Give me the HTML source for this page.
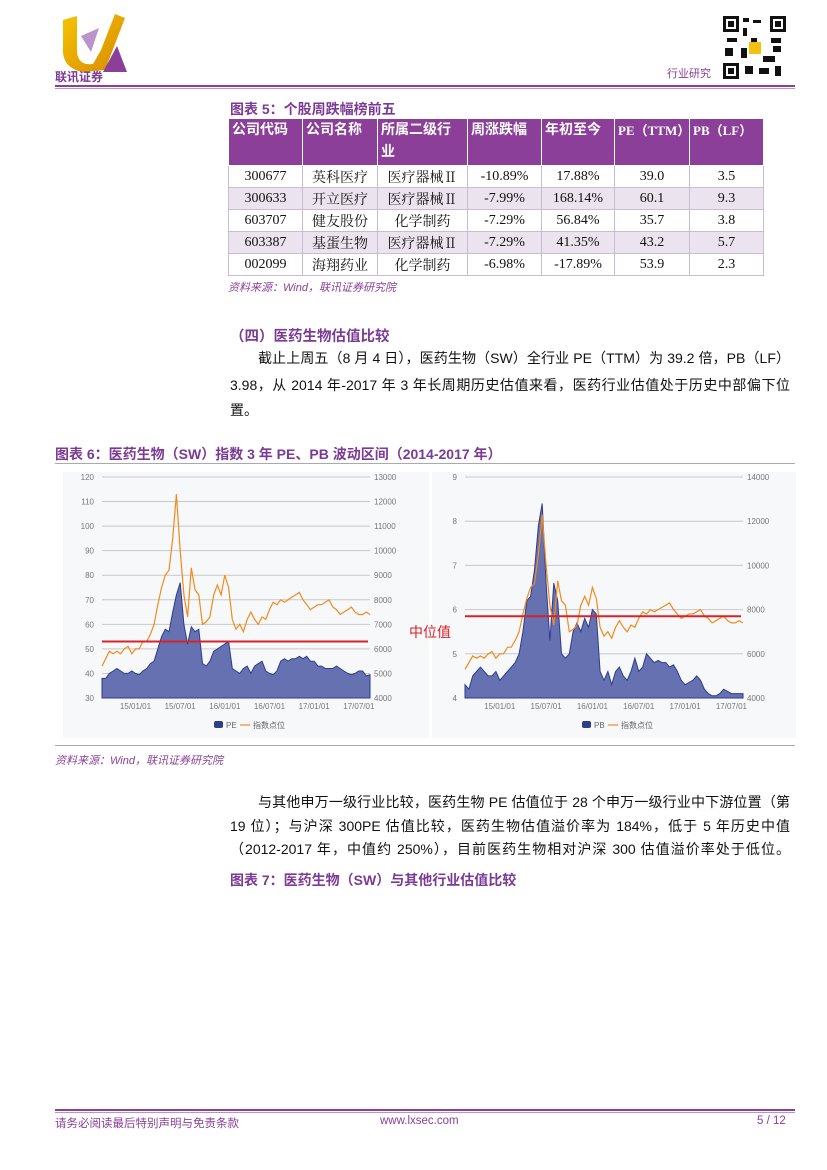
<!DOCTYPE html>
<html><head><meta charset="utf-8">
<style>
body{margin:0;background:#fff;}
#page{position:relative;width:827px;height:1170px;overflow:hidden;font-family:"Liberation Sans","Noto Sans CJK SC",sans-serif;color:#111;}
.abs{position:absolute;}
.ptitle{color:#7b3a96;font-weight:bold;font-size:14px;}
.ln{position:absolute;font-size:14px;text-align:justify;text-align-last:justify;white-space:normal;height:20px;overflow:visible;}
table{border-collapse:collapse;font-family:"Liberation Serif","Noto Serif CJK SC",serif;font-size:14px;table-layout:fixed;}
td,th{border:1px solid #fff;padding:0;text-align:center;}
th{background:#8b3f98;color:#fff;font-weight:bold;text-align:left;vertical-align:top;padding:1px 3px;line-height:22px;font-size:14px;white-space:nowrap;font-family:"Liberation Serif","Noto Sans CJK SC",serif;}
th.wrap{white-space:normal;}
tr.a td{background:#ffffff;}
tr.b td{background:#ebe4ef;}
td{height:21px;border-color:#c9bcd0;}
.src{color:#8b3f98;font-style:italic;font-size:11px;}
</style></head><body>
<div id="page">
<svg class="abs" style="left:55px;top:10px" width="80" height="75">
<defs><linearGradient id="lg" x1="0" y1="0" x2="1" y2="1"><stop offset="0" stop-color="#f5c400"/><stop offset="1" stop-color="#d88a00"/></linearGradient></defs>
<path d="M8 10 L22 6 L22 40 Q22 56 38 54 L46 40 L60 4 L70 8 L50 60 L28 62 Q6 58 8 36 Z" fill="url(#lg)"/>
<path d="M26 26 L44 18 L36 42 Z" fill="#b993c9"/>
<path d="M48 62 L62 36 L72 62 Z" fill="#8b3f98"/>
<text x="0" y="71" font-size="12" fill="#7b3a96" font-family="Noto Sans CJK SC" font-weight="bold">联讯证券</text>
</svg>
<div class="abs" style="left:667px;top:65px;font-size:11px;color:#8b3f98">行业研究</div>
<svg class="abs" style="left:723px;top:16px" width="63" height="63">
<rect width="63" height="63" fill="#fff"/>
<g fill="#111"><rect x="0" y="0" width="16" height="16"/><rect x="47" y="0" width="16" height="16"/><rect x="0" y="47" width="16" height="16"/>
<rect x="20" y="2" width="6" height="4"/><rect x="30" y="4" width="8" height="3"/><rect x="20" y="12" width="4" height="8"/><rect x="4" y="22" width="10" height="4"/><rect x="28" y="22" width="6" height="6"/><rect x="48" y="22" width="10" height="5"/><rect x="18" y="32" width="6" height="10"/><rect x="40" y="40" width="12" height="6"/><rect x="22" y="50" width="8" height="8"/><rect x="36" y="52" width="10" height="6"/><rect x="52" y="50" width="6" height="10"/><rect x="2" y="32" width="8" height="8"/><rect x="50" y="30" width="8" height="6"/></g>
<g fill="#fff"><rect x="3" y="3" width="10" height="10"/><rect x="50" y="3" width="10" height="10"/><rect x="3" y="50" width="10" height="10"/></g>
<g fill="#111"><rect x="5" y="5" width="6" height="6"/><rect x="52" y="5" width="6" height="6"/><rect x="5" y="52" width="6" height="6"/></g>
<rect x="26" y="26" width="12" height="12" fill="#f4c20d"/>
</svg>
<div class="abs" style="left:55px;top:85px;width:740px;height:2px;background:#8b3f98"></div>
<div class="abs" style="left:55px;top:88px;width:740px;height:1px;background:#b993c9"></div>

<div class="abs ptitle" style="left:230px;top:99px">图表 5：个股周跌幅榜前五</div>
<table class="abs" style="left:228px;top:118px;width:535px">
<colgroup><col style="width:74px"><col style="width:75px"><col style="width:90px"><col style="width:74px"><col style="width:73px"><col style="width:75px"><col style="width:74px"></colgroup>
<tr style="height:44px"><th>公司代码</th><th>公司名称</th><th class="wrap">所属二级行业</th><th>周涨跌幅</th><th>年初至今</th><th style="font-size:13px">PE（TTM）</th><th style="font-size:13px">PB（LF）</th></tr>
<tr class="a"><td>300677</td><td>英科医疗</td><td>医疗器械Ⅱ</td><td>-10.89%</td><td>17.88%</td><td>39.0</td><td>3.5</td></tr>
<tr class="b"><td>300633</td><td>开立医疗</td><td>医疗器械Ⅱ</td><td>-7.99%</td><td>168.14%</td><td>60.1</td><td>9.3</td></tr>
<tr class="a"><td>603707</td><td>健友股份</td><td>化学制药</td><td>-7.29%</td><td>56.84%</td><td>35.7</td><td>3.8</td></tr>
<tr class="b"><td>603387</td><td>基蛋生物</td><td>医疗器械Ⅱ</td><td>-7.29%</td><td>41.35%</td><td>43.2</td><td>5.7</td></tr>
<tr class="a"><td>002099</td><td>海翔药业</td><td>化学制药</td><td>-6.98%</td><td>-17.89%</td><td>53.9</td><td>2.3</td></tr>
</table>
<div class="abs src" style="left:228px;top:279px">资料来源：Wind，联讯证券研究院</div>

<div class="abs ptitle" style="left:230px;top:325px;font-size:14.5px">（四）医药生物估值比较</div>
<div>
<div class="ln" style="left:258px;top:348px;width:532px">截止上周五（8 月 4 日），医药生物（SW）全行业 PE（TTM）为 39.2 倍，PB（LF）</div>
<div class="ln" style="left:230px;top:375px;width:560px">3.98，从 2014 年-2017 年 3 年长周期历史估值来看，医药行业估值处于历史中部偏下位</div>
<div class="ln" style="left:230px;top:400px;text-align-last:auto">置。</div>
</div>

<div class="abs ptitle" style="left:55px;top:444px">图表 6：医药生物（SW）指数 3 年 PE、PB 波动区间（2014-2017 年）</div>
<div class="abs" style="left:55px;top:463px;width:740px;height:1px;background:#aaa"></div>

<svg class="abs" id="c1" style="left:63px;top:472px" width="366" height="266"></svg>
<svg class="abs" id="c2" style="left:432px;top:472px" width="364" height="266"></svg>
<div class="abs" style="left:409px;top:622px;color:#d8222a;font-size:14px">中位值</div>

<div class="abs" style="left:55px;top:745px;width:740px;height:1px;background:#aaa"></div>
<div class="abs src" style="left:55px;top:752px">资料来源：Wind，联讯证券研究院</div>

<div>
<div class="ln" style="left:258px;top:792px;width:532px">与其他申万一级行业比较，医药生物 PE 估值位于 28 个申万一级行业中下游位置（第</div>
<div class="ln" style="left:230px;top:816px;width:560px">19 位）；与沪深 300PE 估值比较，医药生物估值溢价率为 184%，低于 5 年历史中值</div>
<div class="ln" style="left:230px;top:839px;width:560px">（2012-2017 年，中值约 250%），目前医药生物相对沪深 300 估值溢价率处于低位。</div>
</div>
<div class="abs ptitle" style="left:230px;top:870px">图表 7：医药生物（SW）与其他行业估值比较</div>

<div class="abs" style="left:55px;top:1109px;width:740px;height:2px;background:#8b3f98"></div>
<div class="abs" style="left:55px;top:1112px;width:740px;height:1px;background:#b993c9"></div>
<div class="abs" style="left:55px;top:1115px;font-size:11.5px;color:#8b3f98">请务必阅读最后特别声明与免责条款</div>
<div class="abs" style="left:380px;top:1115px;font-size:11.5px;color:#8b3f98">www.lxsec.com</div>
<div class="abs" style="left:757px;top:1115px;font-size:11.5px;color:#8b3f98">5 / 12</div>
</div>
<script>
const peValues=[38,38,40,41,42,41,40,40,41,40,39.5,41,
42,44,45,50,55,58,57,65,72,77,60,52,
59,57,58,44,43,45,49,50,51,52,53,42,
41,40,42,43,40,43,44,45,41,40,39.5,41,
45,46,45,46,46,47,46,47,45,45,43,43,
42,42,42,43,42,41,40,39.5,40,41,41,39,
39.5];
const indexValues=[5300,5600,5900,5800,5900,5800,6000,6100,5800,6000,6000,6300,
6300,6600,7000,7800,8500,9000,9200,10500,12300,10000,8200,7300,
9300,8400,8200,7000,7100,7300,8200,8600,8200,9000,8500,7200,
6800,7000,6700,7200,7500,7200,7000,7300,7200,7600,7900,7800,
8000,7900,8000,8100,8200,8300,8000,7800,7600,7700,7800,7800,
7900,8000,7700,7600,7400,7500,7600,7700,7500,7400,7400,7500,
7400];
const pbValues=[4.3,4.2,4.5,4.6,4.7,4.6,4.5,4.5,4.6,4.4,4.5,4.6,
4.7,4.8,5.0,5.5,6.2,6.3,6.9,7.9,8.4,6.6,5.3,6.6,
6.2,5.0,4.9,5.0,5.5,5.7,5.5,5.8,5.6,6.0,5.9,4.6,
4.4,4.6,4.3,4.6,4.7,4.5,4.4,4.6,4.9,4.6,4.7,5.0,
4.9,4.8,4.85,4.8,4.8,4.7,4.75,4.6,4.4,4.3,4.35,4.4,
4.5,4.4,4.2,4.1,4.05,4.05,4.1,4.2,4.15,4.1,4.1,4.1,
4.1];
const xTickLabels=["15/01/01","15/07/01","16/01/01","16/07/01","17/01/01","17/07/01"];
const xTickIndex=[9,21,33,45,57,69];
const peTicks=[30,40,50,60,70,80,90,100,110,120];
const peIndexTicks=[4000,5000,6000,7000,8000,9000,10000,11000,12000,13000];
const pbTicks=[4,5,6,7,8,9];
const pbIndexTicks=[4000,6000,8000,10000,12000,14000];
const peMedian=[53];
const pbMedian=[5.85];
const NS="http://www.w3.org/2000/svg";
function mk(svg,tag,attrs){const e=document.createElementNS(NS,tag);for(const k in attrs)e.setAttribute(k,attrs[k]);svg.appendChild(e);return e;}
function draw(id,cfg){
 const svg=document.getElementById(id);
 const W=+svg.getAttribute('width');
 const bg=mk(svg,'rect',{x:0,y:0,width:W,height:266,fill:'#f7f8fa'});
 
 
 const L=cfg.left,R=cfg.right,T=5,B=226;
 const y1=v=>B-(v-cfg.lt[0])/(cfg.lt[cfg.lt.length-1]-cfg.lt[0])*(B-T);
 const y2=v=>B-(v-cfg.rt[0])/(cfg.rt[cfg.rt.length-1]-cfg.rt[0])*(B-T);
 const n=cfg.main.length;
 const x=i=>L+i/(n-1)*(R-L);
 cfg.lt.forEach((t,k)=>{
  const g=mk(svg,'line',{x1:L,x2:R,y1:y1(t),y2:y1(t),stroke:'#c8c8c8','stroke-width':1});
  
  
  const tx=mk(svg,'text',{x:L-8,y:y1(t)+3,'font-size':8,fill:'#777','text-anchor':'end'});tx.textContent=t;
  
  
 });
 cfg.rt.forEach(t=>{
  const tx=mk(svg,'text',{x:R+4,y:y2(t)+3,'font-size':8,fill:'#777'});tx.textContent=t;
  
  
 });
 let d='M'+x(0)+','+B;cfg.main.forEach((v,i)=>d+=' L'+x(i).toFixed(1)+','+y1(v).toFixed(1));d+=' L'+x(n-1)+','+B+'Z';
 const area=mk(svg,'path',{d:d,fill:'#6571b0',stroke:'#2e3d8c','stroke-width':1});
 
 
 let d2='';cfg.idx.forEach((v,i)=>d2+=(i?' L':'M')+x(i).toFixed(1)+','+y2(v).toFixed(1));
 const ln=mk(svg,'path',{d:d2,fill:'none',stroke:'#f28a1c','stroke-width':1.2});
 
 
 const ml=mk(svg,'line',{x1:L,x2:R-2,y1:y1(cfg.med[0]),y2:y1(cfg.med[0]),stroke:'#d8222a','stroke-width':2});
 
 
 xTickLabels.forEach((t,k)=>{
  const tx=mk(svg,'text',{x:x(xTickIndex[k]),y:B+11,'font-size':8,fill:'#777','text-anchor':'middle'});tx.textContent=t;
  
  
 });
 const cx=W/2-20;
 const lg=mk(svg,'rect',{x:cx-12,y:249,width:9,height:7,rx:2,fill:'#2e3d8c'});
 
 
 const t1=mk(svg,'text',{x:cx,y:256,'font-size':8,fill:'#666'});t1.textContent=cfg.name;
 
 
 const l2=mk(svg,'line',{x1:cx+14,x2:cx+24,y1:253,y2:253,stroke:'#f28a1c','stroke-width':1.2});
 
 
 const t2=mk(svg,'text',{x:cx+27,y:256,'font-size':8,fill:'#666'});t2.textContent='指数点位';
 
 
}
draw('c1',{left:39,right:307,lt:peTicks,rt:peIndexTicks,main:peValues,idx:indexValues,med:peMedian,name:'PE'});
draw('c2',{left:33,right:311,lt:pbTicks,rt:pbIndexTicks,main:pbValues,idx:indexValues,med:pbMedian,name:'PB'});
</script>
</body></html>
